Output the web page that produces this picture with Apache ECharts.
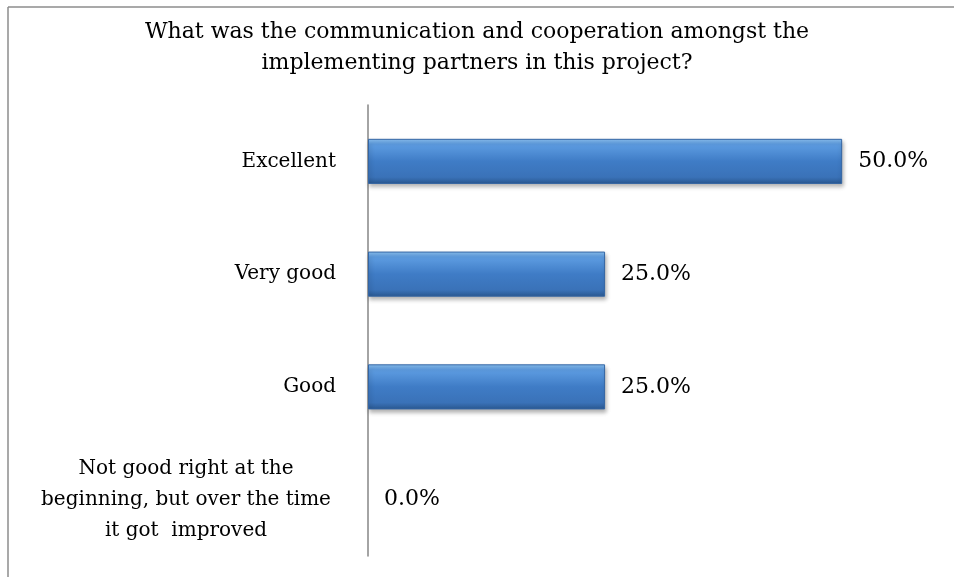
<!DOCTYPE html>
<html>
<head>
<meta charset="utf-8">
<script src="https://cdn.jsdelivr.net/npm/echarts@6/dist/echarts.min.js"></script>
<style>
  html, body { margin: 0; padding: 0; background: #fff; }
  #chart { width: 954px; height: 577px; position: relative; }
</style>
</head>
<body>
<div id="chart"></div>
<script>
// chart data
const titleText = 'What was the communication and cooperation amongst the\nimplementing partners in this project?';
const categories = [
  'Not good right at the\nbeginning, but over the time\nit got  improved',
  'Good',
  'Very good',
  'Excellent'
];
const values = [0.0, 25.0, 25.0, 50.0];

const serif = '"DejaVu Serif", "Liberation Serif", serif';

const chart = echarts.init(document.getElementById('chart'));

chart.setOption({
  backgroundColor: '#fff',
  animation: false,
  title: {
    text: titleText,
    left: 'center',
    top: 12,
    textStyle: {
      fontFamily: serif,
      fontSize: 22,
      fontWeight: 'normal',
      color: '#000',
      lineHeight: 31
    }
  },
  graphic: [
    // frame edges visible in the picture (top and left)
    { type: 'line', shape: { x1: 8, y1: 7, x2: 954, y2: 7 }, style: { stroke: '#8c8c8c', lineWidth: 1.5 } },
    { type: 'line', shape: { x1: 8, y1: 7, x2: 8, y2: 577 }, style: { stroke: '#8c8c8c', lineWidth: 1.5 } }
  ],
  grid: {
    left: 368,
    right: 17,
    top: 105,
    bottom: 21
  },
  xAxis: {
    type: 'value',
    min: 0,
    max: 60,
    show: false
  },
  yAxis: {
    type: 'category',
    data: categories,
    axisLine: { show: true, lineStyle: { color: '#868686', width: 1.5 } },
    axisTick: { show: false },
    axisLabel: {
      margin: 32,
      fontFamily: serif,
      fontSize: 20,
      color: '#000',
      lineHeight: 31,
      formatter: function (val) {
        if (val.indexOf('\n') >= 0) return '{c|' + val + '}';
        return val;
      },
      rich: {
        c: { align: 'center', width: 300, fontFamily: serif, fontSize: 20, lineHeight: 31, color: '#000' }
      }
    }
  },
  series: [
    {
      type: 'bar',
      data: values.map(function (v) {
        // a zero bar is not drawn at all in the picture
        return v === 0 ? { value: v, itemStyle: { borderWidth: 0, shadowBlur: 0, opacity: 0 } } : v;
      }),
      barCategoryGap: '60%',
      itemStyle: {
        color: new echarts.graphic.LinearGradient(0, 0, 0, 1, [
          { offset: 0, color: '#8cc2f2' },
          { offset: 0.12, color: '#5e9de2' },
          { offset: 0.5, color: '#3f7cc6' },
          { offset: 0.85, color: '#3a72b8' },
          { offset: 1, color: '#29578f' }
        ]),
        borderColor: '#3465a3',
        borderWidth: 1,
        shadowColor: 'rgba(0,0,0,0.3)',
        shadowBlur: 4,
        shadowOffsetY: 3,
        shadowOffsetX: 1
      },
      label: {
        show: true,
        position: 'right',
        distance: 16,
        opacity: 1,
        fontFamily: serif,
        fontSize: 22,
        color: '#000',
        formatter: function (p) { return p.value.toFixed(1) + '%'; }
      }
    }
  ]
});
</script>
</body>
</html>
